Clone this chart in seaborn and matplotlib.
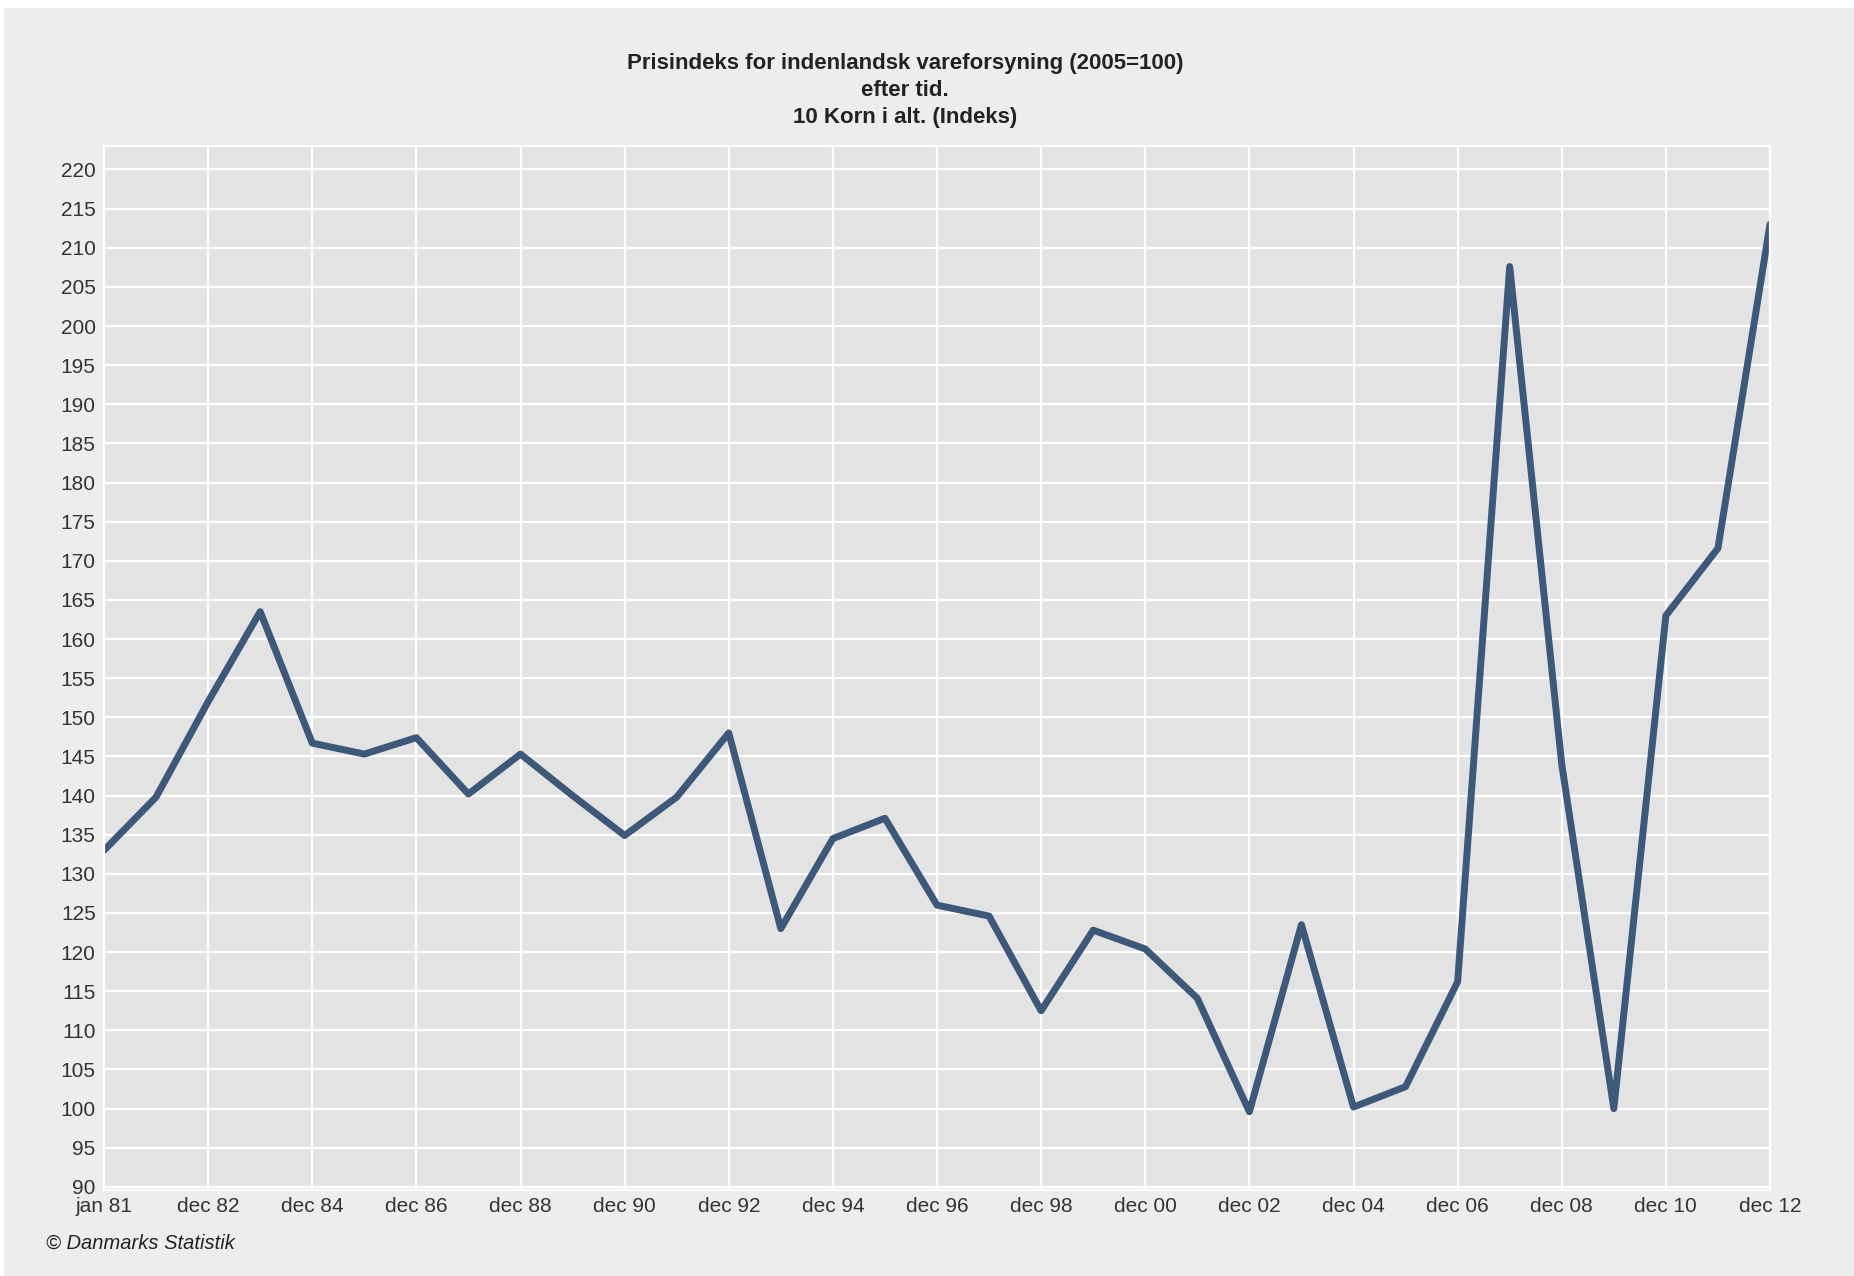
import matplotlib
matplotlib.use("Agg")
import matplotlib.pyplot as plt
import numpy as np
import pandas as pd
import seaborn as sns

# periods: jan 81, then every december up to dec 12
periods = ["jan 81"] + ["dec %02d" % (y % 100) for y in range(1981, 2013)]
index_values = [
    133.0, 139.8, 152.0, 163.5, 146.7, 145.3, 147.4, 140.2, 145.3, 140.0,
    134.9, 139.8, 148.0, 123.0, 134.5, 137.1, 126.0, 124.6, 112.5, 122.8,
    120.4, 114.1, 99.6, 123.5, 100.2, 102.8, 116.2, 207.6, 144.0, 100.0,
    163.0, 171.6, 213.0,
]
y_ticks = list(range(90, 225, 5))

title_lines = [
    "Prisindeks for indenlandsk vareforsyning (2005=100)",
    "efter tid.",
    "10 Korn i alt. (Indeks)",
]
footer = "\u00a9 Danmarks Statistik"

df = pd.DataFrame({"pos": np.arange(len(periods)), "periode": periods, "indeks": index_values})

sns.set_style("darkgrid", {
    "axes.facecolor": "#e3e3e3",
    "grid.color": "white",
    "axes.edgecolor": "white",
})
plt.rcParams["font.family"] = ["Liberation Sans", "DejaVu Sans"]

fig = plt.figure(figsize=(18.54, 12.76), dpi=100, facecolor="white")
# grey panel behind everything, leaving a thin white strip top/left
fig.patches.append(plt.Rectangle((4 / 1854, 0), 1, 1 - 8 / 1276, transform=fig.transFigure,
                                 facecolor="#ededed", edgecolor="none", zorder=-10))

ax = fig.add_axes([104 / 1854, 1 - 1190 / 1276, (1770 - 104) / 1854, (1190 - 146) / 1276])
sns.lineplot(data=df, x="pos", y="indeks", ax=ax, color="#3e587a", linewidth=5,
             solid_joinstyle="round")

ax.set_xlim(0, len(periods) - 1)
ax.set_ylim(89.6, 223)
ax.set_xticks(df["pos"][::2])
ax.set_xticklabels(periods[::2])
ax.set_yticks(y_ticks)
ax.set_yticklabels([str(t) for t in y_ticks])
ax.grid(True, color="white", linewidth=1.6)
ax.tick_params(axis="both", length=0, labelsize=15, labelcolor="#333333")
ax.tick_params(axis="y", pad=6)
ax.tick_params(axis="x", pad=5)
ax.set_xlabel("")
ax.set_ylabel("")
for s in ax.spines.values():
    s.set_color("white")
    s.set_linewidth(1.6)

for i, line in enumerate(title_lines):
    fig.text(905 / 1854, 1 - (63 + 27 * i) / 1276, line, ha="center", va="center",
             fontsize=16, fontweight="bold", color="#222222")

fig.text(46 / 1854, 1 - 1243 / 1276, footer, ha="left", va="center",
         fontsize=14.5, fontstyle="italic", color="#222222")

fig.savefig("out.png", dpi=100, facecolor=fig.get_facecolor())
